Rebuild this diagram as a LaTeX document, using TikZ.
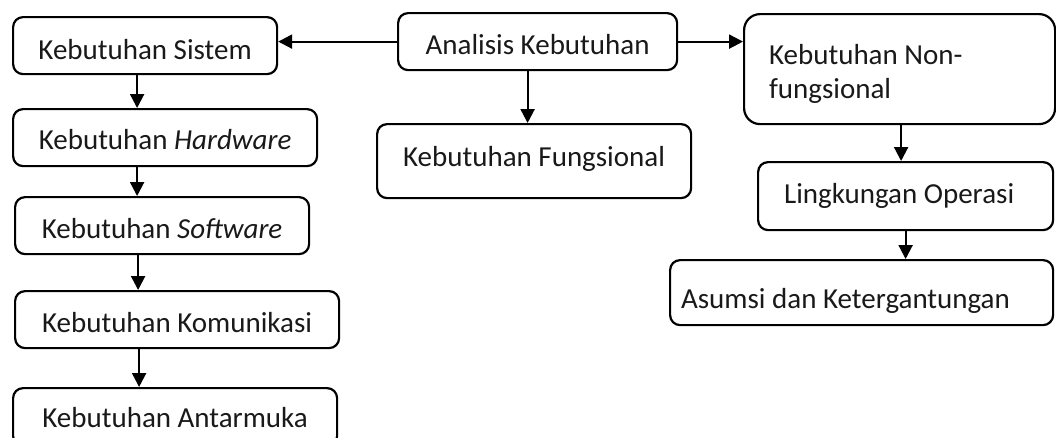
\documentclass[tikz,border=0pt]{standalone}
\usepackage{fontspec}
\setmainfont{Carlito}
\usetikzlibrary{arrows.meta}
\begin{document}
\begin{tikzpicture}[x=1pt,y=-1pt,
  bx/.style={draw=black, line width=2.2pt, rounded corners=10pt, anchor=north west,
    inner sep=0pt, text=black!90, font=\fontsize{29}{34}\selectfont},
  arr/.style={line width=2.2pt, -{Triangle[width=14pt,length=14pt]}}]
\useasboundingbox (0,0) rectangle (1056,437);
\clip (0,0) rectangle (1056,437);
% centre column
\node[bx, minimum width=279pt, text height=41pt, text depth=16pt] (ana) at (397,12) {Analisis Kebutuhan};
\node[bx, minimum width=314pt, text height=42pt, text depth=32pt] (fun) at (376,123) {Kebutuhan Fungsional};
% left column
\node[bx, minimum width=264pt, text height=42pt, text depth=15pt] (sis) at (12,16) {Kebutuhan Sistem};
\node[bx, minimum width=304pt, text height=40pt, text depth=17pt] (hw) at (12,108) {Kebutuhan \textit{Hardware}};
\node[bx, minimum width=294pt, text height=41pt, text depth=16pt] (sw) at (14,196) {Kebutuhan \textit{Software}};
\node[bx, minimum width=324pt, text height=41pt, text depth=16pt] (kom) at (14,290) {Kebutuhan Komunikasi};
\node[bx, minimum width=324pt, text height=39pt, text depth=19pt] (ant) at (12,387) {Kebutuhan Antarmuka};
% right column
\node[bx, rounded corners=16pt, text width=261pt, inner xsep=25pt, align=flush left, text height=50pt, text depth=60pt] (nf) at (743,13) {Kebutuhan Non-\\fungsional};
\node[bx, text width=243pt, inner xsep=26pt, align=flush left, text height=41pt, text depth=27pt] (lk) at (757,161) {Lingkungan Operasi};
\node[bx, text width=361pt, inner xsep=11pt, align=flush left, text height=48pt, text depth=17pt] (as) at (669,259) {Asumsi dan Ketergantungan};
% connectors
\draw[arr] (ana.west) -- (ana.west -| sis.east);
\draw[arr] (ana.east) -- (ana.east -| nf.west);
\draw[arr] ([xshift=-10pt]ana.south) -- ([xshift=-10pt]ana.south |- fun.north);
\draw[arr] ([xshift=-8pt]sis.south) -- ([xshift=-8pt]sis.south |- hw.north);
\draw[arr] ([xshift=-28pt]hw.south) -- ([xshift=-28pt]hw.south |- sw.north);
\draw[arr] ([xshift=-24pt]sw.south) -- ([xshift=-24pt]sw.south |- kom.north);
\draw[arr] ([xshift=-38pt]kom.south) -- ([xshift=-38pt]kom.south |- ant.north);
\draw[arr] ([xshift=1.5pt]nf.south) -- ([xshift=1.5pt]nf.south |- lk.north);
\draw[arr] (lk.south) -- (lk.south |- as.north);
\end{tikzpicture}
\end{document}
